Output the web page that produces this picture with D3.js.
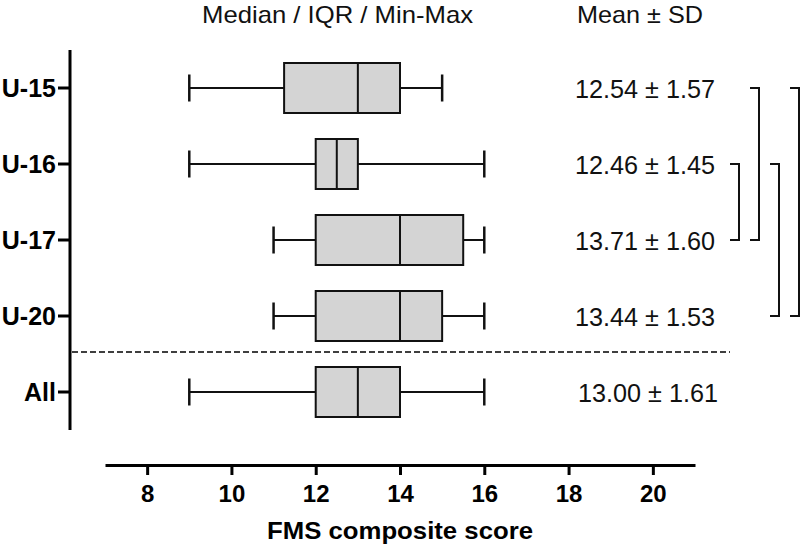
<!DOCTYPE html>
<html>
<head>
<meta charset="utf-8">
<script src="https://cdn.jsdelivr.net/npm/d3@7"></script>
<style>
  html, body { margin: 0; padding: 0; background: #fff; }
  svg { display: block; font-family: "Liberation Sans", Arial, Helvetica, sans-serif; }
</style>
</head>
<body>
<svg id="chart" width="800" height="547"></svg>
<script>
// ---- Data ----
const categories = ["U-15", "U-16", "U-17", "U-20", "All"];
const minValues    = [9,     9,    11,   11,   9];
const q1Values     = [11.25, 12,   12,   12,   12];
const medianValues = [13,    12.5, 14,   14,   13];
const q3Values     = [14,    13,   15.5, 15,   14];
const maxValues    = [15,    16,   16,   16,   16];
const meanSdLabels = ["12.54 ± 1.57", "12.46 ± 1.45", "13.71 ± 1.60", "13.44 ± 1.53", "13.00 ± 1.61"];
const xTickValues  = [8, 10, 12, 14, 16, 18, 20];
const bracketPairs = [["U-16", "U-17"], ["U-15", "U-17"], ["U-16", "U-20"], ["U-15", "U-20"]];
const xAxisTitle = "FMS composite score";
const headerLeft = "Median / IQR / Min-Max";
const headerRight = "Mean ± SD";

// ---- Layout ----
const svg = d3.select("#chart");
const x = d3.scaleLinear().domain([7, 21]).range([105, 695]);
const y = d3.scalePoint().domain(categories).range([88, 392]);
const boxH = 50, capH = 27;

// Headers
svg.append("text").attr("x", 202).attr("y", 23)
  .attr("font-size", 24).attr("textLength", 271).attr("lengthAdjust", "spacingAndGlyphs")
  .attr("fill", "#111").text(headerLeft);
svg.append("text").attr("x", 577).attr("y", 23)
  .attr("font-size", 24).attr("textLength", 126).attr("lengthAdjust", "spacingAndGlyphs")
  .attr("fill", "#111").text(headerRight);

// Y axis
svg.append("line").attr("x1", 70).attr("x2", 70).attr("y1", 50).attr("y2", 430)
  .attr("stroke", "#000").attr("stroke-width", 3);
const yG = svg.append("g").selectAll("g").data(categories).join("g");
yG.append("line").attr("x1", 58).attr("x2", 70).attr("y1", d => y(d)).attr("y2", d => y(d))
  .attr("stroke", "#000").attr("stroke-width", 3);
yG.append("text").attr("x", 56).attr("y", d => y(d) + 8.5)
  .attr("text-anchor", "end").attr("font-size", 25).attr("font-weight", "bold")
  .attr("fill", "#000").text(d => d);

// Dashed separator
svg.append("line").attr("x1", 72).attr("x2", 730).attr("y1", 352).attr("y2", 352)
  .attr("stroke", "#000").attr("stroke-width", 1.5).attr("stroke-dasharray", "6,3");

// X axis
const xAxis = d3.axisBottom(x).tickValues(xTickValues).tickSize(10).tickSizeOuter(0).tickPadding(10);
const xg = svg.append("g").attr("transform", "translate(0,465)").call(xAxis);
xg.select(".domain").attr("stroke", "#000").attr("stroke-width", 3);
xg.selectAll(".tick line").attr("stroke", "#000").attr("stroke-width", 3);
xg.selectAll(".tick text").attr("font-size", 24).attr("font-weight", "bold")
  .attr("fill", "#000").attr("font-family", "Liberation Sans, Arial, sans-serif");
svg.append("text").attr("x", 267).attr("y", 539)
  .attr("font-size", 24).attr("font-weight", "bold").attr("textLength", 266).attr("lengthAdjust", "spacingAndGlyphs")
  .attr("fill", "#000").text(xAxisTitle);

// Boxes
const rows = categories.map((c, i) => ({
  c, min: minValues[i], q1: q1Values[i], med: medianValues[i], q3: q3Values[i], max: maxValues[i], label: meanSdLabels[i]
}));
const bg = svg.append("g").selectAll("g").data(rows).join("g");
bg.append("line").attr("x1", d => x(d.min)).attr("x2", d => x(d.max))
  .attr("y1", d => y(d.c)).attr("y2", d => y(d.c)).attr("stroke", "#111").attr("stroke-width", 2);
bg.append("line").attr("x1", d => x(d.min)).attr("x2", d => x(d.min))
  .attr("y1", d => y(d.c) - capH / 2).attr("y2", d => y(d.c) + capH / 2).attr("stroke", "#111").attr("stroke-width", 2.5);
bg.append("line").attr("x1", d => x(d.max)).attr("x2", d => x(d.max))
  .attr("y1", d => y(d.c) - capH / 2).attr("y2", d => y(d.c) + capH / 2).attr("stroke", "#111").attr("stroke-width", 2.5);
bg.append("rect").attr("x", d => x(d.q1)).attr("width", d => x(d.q3) - x(d.q1))
  .attr("y", d => y(d.c) - boxH / 2).attr("height", boxH)
  .attr("fill", "#d4d4d4").attr("stroke", "#111").attr("stroke-width", 2);
bg.append("line").attr("x1", d => x(d.med)).attr("x2", d => x(d.med))
  .attr("y1", d => y(d.c) - boxH / 2).attr("y2", d => y(d.c) + boxH / 2).attr("stroke", "#111").attr("stroke-width", 2);

// Mean ± SD labels
bg.append("text").attr("x", (d, i) => i === 4 ? 578 : 575).attr("y", d => y(d.c) + 10)
  .attr("font-size", 26).attr("textLength", 140).attr("lengthAdjust", "spacingAndGlyphs")
  .attr("fill", "#111").text(d => d.label);

// Brackets
const arm = 9;
svg.append("g").selectAll("path").data(bracketPairs).join("path")
  .attr("d", (p, i) => {
    const bx = 739 + i * 20;
    const y1 = y(p[0]), y2 = y(p[1]);
    return `M${bx - arm},${y1}H${bx}V${y2}H${bx - arm}`;
  })
  .attr("fill", "none").attr("stroke", "#111").attr("stroke-width", 2);
</script>
</body>
</html>
